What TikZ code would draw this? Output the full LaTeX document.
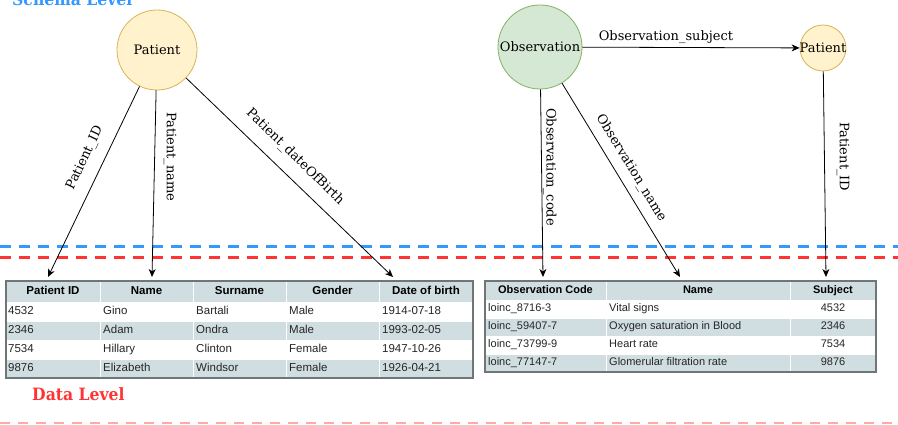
\documentclass[tikz,border=0pt]{standalone}
\usepackage{fontspec}
\setmainfont{DejaVu Serif}
\newfontfamily\tabfont{Liberation Sans}
\newfontfamily\lvlfont{DejaVu Serif}[FakeStretch=0.92]
\usetikzlibrary{arrows.meta}
\definecolor{pfill}{HTML}{FFF2CC}
\definecolor{pdraw}{HTML}{D6B656}
\definecolor{ofill}{HTML}{D5E8D4}
\definecolor{odraw}{HTML}{82B366}
\definecolor{schblue}{HTML}{3399FF}
\definecolor{datred}{HTML}{FF3333}
\definecolor{cellfill}{RGB}{208,222,226}
\definecolor{tabborder}{RGB}{110,118,120}
\definecolor{faint}{HTML}{FFAAAA}
\tikzset{
  ent/.style={circle, draw, line width=0.8pt, inner sep=0pt},
  rel/.style={draw=black, line width=0.8pt, -{Stealth[length=8pt,width=7pt,inset=2.5pt]}},
  lbl/.style={font=\fontsize{13}{15}\selectfont, inner sep=0pt},
  lvl/.style={font=\lvlfont\bfseries\fontsize{17}{20}\selectfont, inner sep=0pt},
  sepline/.style={line width=3.2pt, dash pattern=on 11pt off 8pt},
  hdrL/.style={font=\tabfont\bfseries\fontsize{11.5}{13}\selectfont, inner sep=0pt, text height=8.5pt, text depth=2.5pt, anchor=center},
  cellL/.style={font=\tabfont\fontsize{11.5}{13}\selectfont, inner sep=0pt, text height=8.5pt, text depth=2.5pt, anchor=west, text=black!85},
  hdrR/.style={font=\tabfont\bfseries\fontsize{11}{13}\selectfont, inner sep=0pt, text height=8pt, text depth=2.5pt, anchor=center},
  cellR/.style={font=\tabfont\fontsize{11}{13}\selectfont, inner sep=0pt, text height=8pt, text depth=2.5pt, anchor=west, text=black!85},
  cellRc/.style={cellR, anchor=center},
  grid/.style={white, line width=1pt},
  tborder/.style={draw=tabborder, line width=1.5pt},
}
\begin{document}
\begin{tikzpicture}[x=1pt,y=-1pt]
\path[use as bounding box] (0,0) rectangle (898,425);
\fill[white] (0,0) rectangle (898,425);

% level labels
\node[lvl, text=schblue, anchor=base west] (schema) at (12,6) {Schema Level};
\node[lvl, text=datred, anchor=base west] (data) at (32,400) {Data Level};

% separator lines
\draw[sepline, schblue] (0,246.5) -- (898,246.5);
\draw[sepline, datred] (0,257.5) -- (898,257.5);
\draw[faint, line width=1.5pt, dash pattern=on 10pt off 8pt] (0,423) -- (898,423);

% ---------- left table ----------
\fill[cellfill] (6,281) rectangle (473,302);
\fill[cellfill] (6,321) rectangle (473,340);
\fill[cellfill] (6,359) rectangle (473,378);
\foreach \x in {100,193,286,379} \draw[grid] (\x,281) -- (\x,378);
\foreach \y in {302,321,340,359} \draw[grid] (6,\y) -- (473,\y);
\draw[tborder] (6,281) rectangle (473,378);
\node[hdrL] (lh1) at (53,291.5) {Patient ID};
\node[hdrL] (lh2) at (146.5,291.5) {Name};
\node[hdrL] (lh3) at (239.5,291.5) {Surname};
\node[hdrL] (lh4) at (332.5,291.5) {Gender};
\node[hdrL] (lh5) at (426,291.5) {Date of birth};
\foreach \r/\y/\a/\b/\c/\d/\e in {1/311.5/4532/Gino/Bartali/Male/1914-07-18,
  2/330.5/2346/Adam/Ondra/Male/1993-02-05,
  3/349.5/7534/Hillary/Clinton/Female/1947-10-26,
  4/368.5/9876/Elizabeth/Windsor/Female/1926-04-21}{
  \node[cellL] (la\r) at (8,\y) {\a};
  \node[cellL] (lb\r) at (103,\y) {\b};
  \node[cellL] (lc\r) at (196,\y) {\c};
  \node[cellL] (ld\r) at (289,\y) {\d};
  \node[cellL] (le\r) at (382,\y) {\e};
}

% ---------- right table ----------
\fill[cellfill] (485,281) rectangle (876,300);
\fill[cellfill] (485,318) rectangle (876,336);
\fill[cellfill] (485,354) rectangle (876,372);
\foreach \x in {606,790} \draw[grid] (\x,281) -- (\x,372);
\foreach \y in {300,318,336,354} \draw[grid] (485,\y) -- (876,\y);
\draw[tborder] (485,281) rectangle (876,372);
\node[hdrR] (rh1) at (545.5,290.5) {Observation Code};
\node[hdrR] (rh2) at (698,290.5) {Name};
\node[hdrR] (rh3) at (833,290.5) {Subject};
\foreach \r/\y/\a/\b/\c in {1/309/loinc\_8716-3/Vital signs/4532,
  2/327/loinc\_59407-7/Oxygen saturation in Blood/2346,
  3/345/loinc\_73799-9/Heart rate/7534,
  4/363/loinc\_77147-7/Glomerular filtration rate/9876}{
  \node[cellR] (ra\r) at (488,\y) {\a};
  \node[cellR] (rb\r) at (609,\y) {\b};
  \node[cellRc] (rc\r) at (833,\y) {\c};
}

% ---------- schema nodes ----------
\node[ent, fill=pfill, draw=pdraw, minimum size=80pt, label={[lbl]center:Patient}] (pat) at (157,50) {};
\node[ent, fill=ofill, draw=odraw, minimum size=84pt, label={[lbl]center:Observation}] (obs) at (540,47) {};
\node[ent, fill=pfill, draw=pdraw, minimum size=46pt, label={[lbl]center:Patient}] (pat2) at (823,48) {};

% arrow targets
\coordinate (tPID) at (48,277);
\coordinate (tPN) at (152,277);
\coordinate (tPD) at (393,277);
\coordinate (tOC) at (543,277);
\coordinate (tON) at (680,277);
\coordinate (tSB) at (826,277);

\draw[rel] (pat) -- (tPID);
\draw[rel] (pat) -- (tPN);
\draw[rel] (pat) -- (tPD);
\draw[rel] (obs) -- (tOC);
\draw[rel] (obs) -- (tON);
\draw[rel] (pat2) -- (tSB);
\draw[rel] (obs) -- (pat2);

% edge labels
\node[lbl, rotate=64.5] (lPID) at (85,158) {Patient\_ID};
\node[lbl, rotate=-90] (lPN) at (170,157) {Patient\_name};
\node[lbl, rotate=-44.4] (lPD) at (295,157) {Patient\_dateOfBirth};
\node[lbl, rotate=-90] (lOC) at (550,167) {Observation\_code};
\node[lbl, rotate=-58.7] (lON) at (631,168) {Observation\_name};
\node[lbl, rotate=-90] (lSB) at (843,157) {Patient\_ID};
\node[lbl] (lOS) at (666,37) {Observation\_subject};
\end{tikzpicture}
\end{document}
